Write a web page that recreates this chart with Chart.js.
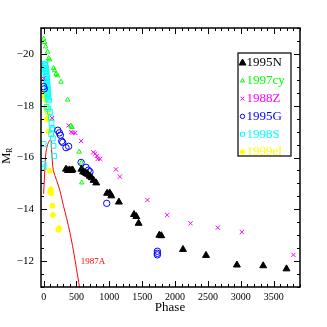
<!DOCTYPE html>
<html>
<head>
<meta charset="utf-8">
<script src="https://cdn.jsdelivr.net/npm/chart.js@4/dist/chart.umd.min.js"></script>
<style>
  html, body { margin: 0; padding: 0; background: #fff; }
  canvas { display: block; }
</style>
</head>
<body>
<canvas id="sn-chart" width="327" height="327"></canvas>
<script>
// phase (days) and absolute R magnitude
const n1995N_x = [340, 370, 395, 420, 440, 575, 600, 625, 650, 675, 700, 730, 760, 800, 965, 1005, 1030, 1145, 1375, 1410, 1445, 1760, 1790, 2120, 2470, 2940, 3340, 3695];
const n1995N_y = [-15.55, -15.5, -15.52, -15.5, -15.52, -15.55, -15.45, -15.42, -15.38, -15.35, -15.28, -15.22, -15.12, -15.02, -14.62, -14.63, -14.52, -14.28, -13.8, -13.72, -13.46, -13.0, -12.98, -12.45, -12.22, -11.85, -11.82, -11.7];

const n1997cy_x = [0, 15, 30, 60, 75, 90, 150, 165, 190, 210, 265, 365, 415, 430, 540, 575, 580];
const n1997cy_y = [-20.58, -20.45, -20.28, -20.08, -19.83, -19.78, -19.45, -19.36, -19.22, -19.17, -18.92, -18.23, -17.22, -17.17, -16.22, -15.8, -15.03];

const n1988Z_x = [0, 130, 380, 420, 445, 480, 570, 755, 785, 810, 825, 860, 1100, 1160, 1580, 1880, 2235, 2650, 3015, 3800];
const n1988Z_y = [-19.05, -17.52, -17.24, -16.98, -16.96, -16.95, -16.64, -16.2, -16.15, -16.06, -15.95, -15.95, -15.54, -15.26, -14.36, -13.78, -13.46, -13.29, -13.12, -12.24];

const n1995G_x = [0, 10, 215, 240, 255, 275, 290, 340, 380, 570, 645, 680, 705, 960, 1730, 1730, 1730];
const n1995G_y = [-18.74, -18.65, -17.05, -16.95, -16.86, -16.63, -16.58, -16.38, -16.43, -15.81, -15.62, -15.51, -15.45, -14.23, -12.38, -12.3, -12.24];

const n1998S_x = [20, 30, 22, 35, 25, 40, 28, 45, 32, 50, 38, 55, 42, 60, 48, 65, 52, 70, 58, 75, 62, 80, 45, 70, 95, 110, 120, 130, 135, 115, 140, 150, 160, 0, 0, 0];
const n1998S_y = [-19.62, -19.58, -19.52, -19.46, -19.4, -19.34, -19.28, -19.22, -19.16, -19.1, -19.02, -18.95, -18.88, -18.8, -18.72, -18.64, -18.56, -18.48, -18.4, -18.33, -18.26, -18.2, -17.95, -17.88, -17.76, -17.54, -17.33, -17.12, -17.08, -16.9, -16.74, -16.45, -16.05, -16.52, -15.75, -15.62];

const n1999el_x = [15, 25, 15, 35, 30, 50, 50, 60, 50, 65, 75, 90, 110, 100, 115, 135, 140, 235, 225];
const n1999el_y = [-18.53, -18.44, -18.33, -18.21, -18.28, -17.92, -17.82, -17.73, -17.5, -17.47, -17.01, -15.49, -14.77, -14.68, -14.62, -14.14, -13.78, -13.27, -13.21];

const n1987A_x = [0, 20, 35, 60, 90, 105, 115, 121, 132, 147, 200, 250, 300, 350, 400, 450, 500, 545];
const n1987A_y = [-14.6, -15.6, -16.2, -16.5, -16.65, -16.7, -16.62, -16.3, -15.9, -15.5, -15.1, -14.7, -14.15, -13.65, -13.1, -12.45, -11.7, -11.0];

const xTicks = [0, 500, 1000, 1500, 2000, 2500, 3000, 3500];
const yTicks = [-20, -18, -16, -14, -12];

const pts = (xs, ys) => xs.map((x, i) => ({ x: x, y: ys[i] }));

const SERIF = '"Liberation Serif", "DejaVu Serif", serif';

const series = [
  { label: '1995N', data: pts(n1995N_x, n1995N_y), style: 'triangle', r: 4, color: '#000000', fill: true, lr: 4 },
  { label: '1997cy', data: pts(n1997cy_x, n1997cy_y), style: 'triangle', r: 2.6, color: '#00ff00', fill: false, lr: 2.4 },
  { label: '1988Z', data: pts(n1988Z_x, n1988Z_y), style: 'crossRot', r: 3, color: '#ff00ff', fill: false, lr: 2.6 },
  { label: '1995G', data: pts(n1995G_x, n1995G_y), style: 'circle', r: 3.2, color: '#0000ff', fill: false, lr: 2.2 },
  { label: '1998S', data: pts(n1998S_x, n1998S_y), style: 'rect', r: 3.4, color: '#00ffff', fill: false, lr: 2.8 },
  { label: '1999el', data: pts(n1999el_x, n1999el_y), style: 'circle', r: 2.5, color: '#ffff00', fill: true, lr: 2.2 }
];

function drawMarker(ctx, s, x, y) {
  const r = s.lr;
  ctx.beginPath();
  if (s.style === 'triangle') {
    ctx.moveTo(x, y - r);
    ctx.lineTo(x + r * 0.866, y + r * 0.5);
    ctx.lineTo(x - r * 0.866, y + r * 0.5);
    ctx.closePath();
  } else if (s.style === 'circle') {
    ctx.arc(x, y, r, 0, Math.PI * 2);
  } else if (s.style === 'rect') {
    ctx.rect(x - r * 0.7, y - r * 0.7, r * 1.4, r * 1.4);
  } else if (s.style === 'crossRot') {
    const d = r * 0.7;
    ctx.moveTo(x - d, y - d); ctx.lineTo(x + d, y + d);
    ctx.moveTo(x + d, y - d); ctx.lineTo(x - d, y + d);
  }
  ctx.lineWidth = 1;
  ctx.strokeStyle = s.color;
  ctx.stroke();
  if (s.fill) {
    ctx.fillStyle = s.color;
    ctx.fill();
  }
}

// frame, inward ticks on all sides, legend box and free labels
const decorations = {
  id: 'decorations',
  afterDraw(chart) {
    const { ctx, chartArea: a, scales: { x, y } } = chart;
    ctx.save();
    ctx.strokeStyle = '#000';
    ctx.lineWidth = 1;
    ctx.beginPath();
    for (let v = 0; v <= 3900; v += 100) {
      const px = Math.round(x.getPixelForValue(v)) + 0.5;
      const len = v % 500 === 0 ? 6 : 3;
      ctx.moveTo(px, a.bottom); ctx.lineTo(px, a.bottom - len);
      ctx.moveTo(px, a.top); ctx.lineTo(px, a.top + len);
    }
    for (let v = -21; v <= -11; v += 0.5) {
      const py = Math.round(y.getPixelForValue(v)) + 0.5;
      const len = v % 2 === 0 ? 6 : 3;
      ctx.moveTo(a.left, py); ctx.lineTo(a.left + len, py);
      ctx.moveTo(a.right, py); ctx.lineTo(a.right - len, py);
    }
    ctx.stroke();
    ctx.lineWidth = 1.5;
    ctx.strokeRect(a.left, a.top, a.width, a.height);

    // legend
    const bx = 238, by = 53, bw = 53, bh = 103;
    ctx.fillStyle = '#fff';
    ctx.fillRect(bx, by, bw, bh);
    ctx.save();
    ctx.beginPath();
    ctx.rect(bx, by, bw, bh);
    ctx.clip();
    ctx.font = '13px ' + SERIF;
    ctx.textBaseline = 'middle';
    ctx.textAlign = 'left';
    series.forEach((s, i) => {
      const ly = 62 + i * 17.8;
      drawMarker(ctx, s, 242.5, ly + 1);
      ctx.fillStyle = s.color;
      ctx.fillText(s.label, 246.5, ly + 1);
    });
    ctx.restore();
    ctx.strokeStyle = '#000';
    ctx.lineWidth = 1.2;
    ctx.strokeRect(bx, by, bw, bh);

    // 1987A label
    ctx.fillStyle = '#ff0000';
    ctx.font = '9px ' + SERIF;
    ctx.textAlign = 'center';
    ctx.textBaseline = 'middle';
    ctx.fillText('1987A', 93, 262);

    // axis titles
    ctx.fillStyle = '#000';
    ctx.font = '13px ' + SERIF;
    ctx.fillText('Phase', 170, 308);
    ctx.save();
    ctx.translate(10, 159);
    ctx.rotate(-Math.PI / 2);
    ctx.textAlign = 'left';
    ctx.textBaseline = 'alphabetic';
    ctx.font = '13px ' + SERIF;
    ctx.fillText('M', -5, 0);
    ctx.font = '8px ' + SERIF;
    ctx.fillText('R', 6, 2);
    ctx.restore();
    ctx.restore();
  }
};

const scatterSets = series.map(s => ({
  label: s.label,
  data: s.data,
  pointStyle: s.style,
  pointRadius: s.r,
  pointBorderWidth: 1,
  pointBorderColor: s.color,
  pointBackgroundColor: s.fill ? s.color : 'rgba(0,0,0,0)',
  showLine: false
}));

scatterSets.push({
  label: '1987A',
  data: pts(n1987A_x, n1987A_y),
  showLine: true,
  borderColor: '#ff0000',
  borderWidth: 1,
  pointRadius: 0,
  tension: 0.3,
  fill: false
});

new Chart(document.getElementById('sn-chart'), {
  type: 'scatter',
  data: { datasets: scatterSets },
  options: {
    responsive: false,
    animation: false,
    clip: 0,
    layout: { padding: { top: 28, right: 27, left: 0, bottom: 0 } },
    plugins: { legend: { display: false }, tooltip: { enabled: false } },
    scales: {
      x: {
        type: 'linear',
        min: -40,
        max: 3900,
        grid: { display: false, drawTicks: false },
        border: { display: false },
        ticks: { padding: 4, color: '#000', font: { family: SERIF, size: 10 }, maxRotation: 0, autoSkip: false, callback: v => String(v) },
        afterBuildTicks: s => { s.ticks = xTicks.map(v => ({ value: v })); },
        afterFit: s => { s.height = 40; }
      },
      y: {
        type: 'linear',
        min: -21,
        max: -11,
        reverse: true,
        grid: { display: false, drawTicks: false },
        border: { display: false },
        ticks: { padding: 7, color: '#000', font: { family: SERIF, size: 11 }, callback: v => '\u2212' + Math.abs(v) },
        afterBuildTicks: s => { s.ticks = yTicks.map(v => ({ value: v })); },
        afterFit: s => { s.width = 41; }
      }
    }
  },
  plugins: [decorations]
});
</script>
</body>
</html>
